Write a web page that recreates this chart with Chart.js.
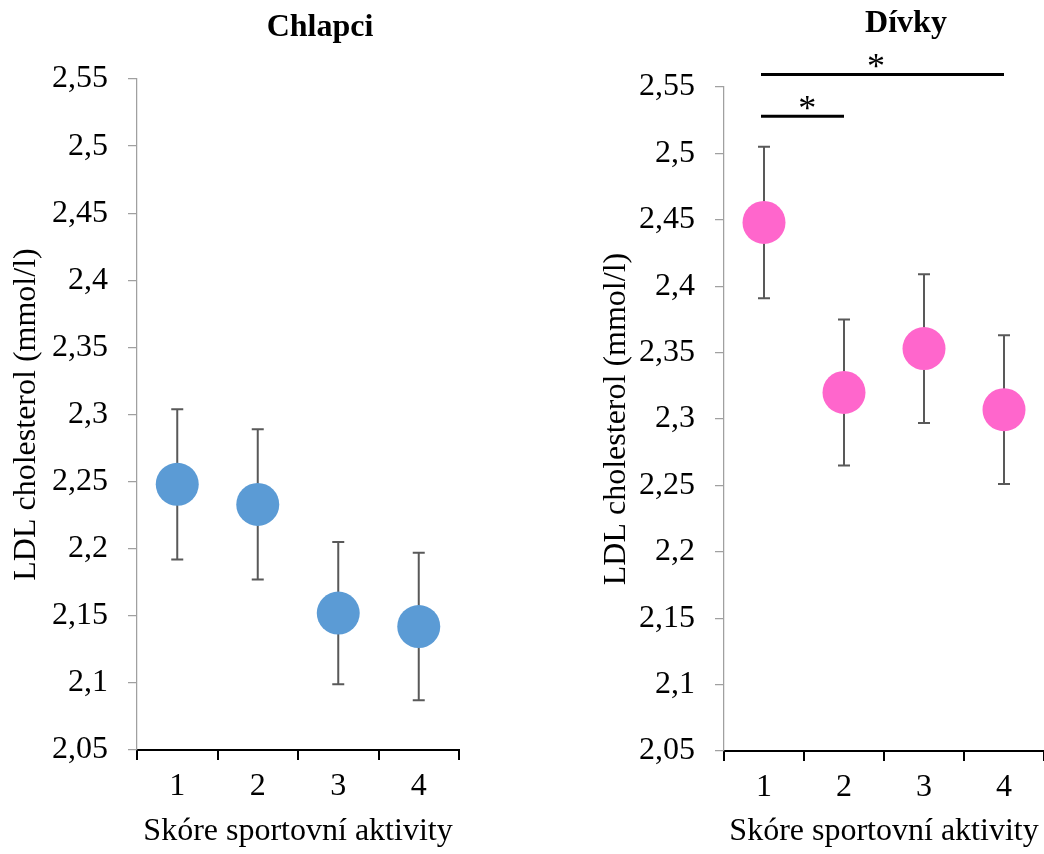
<!DOCTYPE html>
<html>
<head>
<meta charset="utf-8">
<script src="https://cdn.jsdelivr.net/npm/chart.js@4.4.0/dist/chart.umd.min.js"></script>
<style>
  body { margin: 0; background: #fff; }
  #wrap { position: relative; width: 1044px; height: 854px; overflow: hidden; }
  canvas { position: absolute; top: 0; }
  #boys { left: 0; }
  #girls { left: 590px; }
</style>
</head>
<body>
<div id="wrap">
  <canvas id="boys" width="470" height="854"></canvas>
  <canvas id="girls" width="454" height="854"></canvas>
</div>
<script>
const scores = ['1', '2', '3', '4'];
const yTicks = [2.05, 2.1, 2.15, 2.2, 2.25, 2.3, 2.35, 2.4, 2.45, 2.5, 2.55];

const boysMean = [2.248, 2.233, 2.152, 2.142];
const boysErr = [0.056, 0.056, 0.053, 0.055];

const girlsMean = [2.448, 2.320, 2.353, 2.307];
const girlsErr = [0.057, 0.055, 0.056, 0.056];

// significance brackets for girls: category indexes, star position, height
const girlsSig = [
  { from: 0, to: 1, star: 0.54, level: 2.528 },
  { from: 0, to: 3, star: 1.40, level: 2.5595 }
];

const serif = "'Liberation Serif', 'Times New Roman', serif";
Chart.defaults.font.family = serif;
Chart.defaults.color = '#000';

const errorBars = {
  id: 'errorBars',
  beforeDatasetsDraw(chart, args, opts) {
    const { ctx, scales: { x, y } } = chart;
    const mean = chart.data.datasets[0].data;
    ctx.save();
    ctx.strokeStyle = '#595959';
    ctx.lineWidth = 2;
    mean.forEach((m, i) => {
      const px = x.getPixelForValue(i);
      const top = y.getPixelForValue(m + opts.err[i]);
      const bot = y.getPixelForValue(m - opts.err[i]);
      ctx.beginPath();
      ctx.moveTo(px, top); ctx.lineTo(px, bot);
      ctx.moveTo(px - 6, top); ctx.lineTo(px + 6, top);
      ctx.moveTo(px - 6, bot); ctx.lineTo(px + 6, bot);
      ctx.stroke();
    });
    ctx.restore();
  }
};

const sigBars = {
  id: 'sigBars',
  afterDatasetsDraw(chart, args, opts) {
    if (!opts.bars) return;
    const { ctx, scales: { x, y } } = chart;
    ctx.save();
    ctx.strokeStyle = '#000';
    ctx.fillStyle = '#000';
    ctx.lineWidth = 3;
    ctx.font = '36px ' + serif;
    ctx.textAlign = 'center';
    ctx.textBaseline = 'alphabetic';
    opts.bars.forEach(b => {
      const py = y.getPixelForValue(b.level);
      ctx.beginPath();
      ctx.moveTo(x.getPixelForValue(b.from) - 3, py);
      ctx.lineTo(x.getPixelForValue(b.to), py);
      ctx.stroke();
      ctx.fillText('*', x.getPixelForValue(b.star), py + 4);
    });
    ctx.restore();
  }
};

const heading = {
  id: 'heading',
  afterDraw(chart, args, opts) {
    const { ctx, chartArea } = chart;
    ctx.save();
    ctx.font = 'bold 32px ' + serif;
    ctx.fillStyle = '#000';
    ctx.textAlign = 'center';
    ctx.textBaseline = 'alphabetic';
    ctx.fillText(opts.text, (chartArea.left + chartArea.right) / 2 + 22, opts.baseline);
    ctx.restore();
  }
};

function panel(id, cfg) {
  return new Chart(document.getElementById(id), {
    type: 'line',
    data: {
      labels: scores,
      datasets: [{
        data: cfg.mean,
        showLine: false,
        pointRadius: 21.5,
        pointHoverRadius: 21.5,
        pointBackgroundColor: cfg.color,
        pointBorderWidth: 0,
        clip: false
      }]
    },
    options: {
      responsive: false,
      animation: false,
      events: [],
      layout: {
        autoPadding: false,
        padding: { top: cfg.top, right: cfg.right, bottom: 0, left: 0 }
      },
      plugins: {
        legend: { display: false },
        tooltip: { enabled: false },
        errorBars: { err: cfg.err },
        sigBars: { bars: cfg.sig },
        heading: { text: cfg.title, baseline: cfg.titleBaseline }
      },
      scales: {
        x: {
          type: 'category',
          offset: true,
          afterFit: s => {
            s.height = 854 - cfg.bottom;
            s.paddingLeft = 0;
            s.paddingRight = 0;
          },
          border: { color: '#000', width: 2 },
          grid: { offset: true, drawOnChartArea: false, drawTicks: true, tickLength: 10, color: '#000', lineWidth: 2 },
          ticks: { font: { size: 32 }, padding: 7, color: '#000' },
          title: { display: true, text: 'Skóre sportovní aktivity', font: { size: 32 }, padding: { top: 0, bottom: 3 }, color: '#000' }
        },
        y: {
          min: 2.05,
          max: 2.55,
          afterBuildTicks: s => { s.ticks = yTicks.map(v => ({ value: v })); },
          afterFit: s => { s.width = cfg.left; },
          border: { color: '#A0A0A0', width: 1.25 },
          grid: { drawOnChartArea: false, drawTicks: true, tickLength: 9, color: '#A0A0A0', lineWidth: 1.25 },
          ticks: {
            font: { size: 32 },
            padding: 20,
            color: '#000',
            callback: v => String(v).replace('.', ',')
          },
          title: { display: true, text: 'LDL cholesterol (mmol/l)', font: { size: 32 }, padding: { top: 7, bottom: 0 }, color: '#000' }
        }
      }
    },
    plugins: [errorBars, sigBars, heading]
  });
}

panel('boys', {
  title: 'Chlapci', titleBaseline: 36,
  mean: boysMean, err: boysErr, color: '#5B9BD5',
  top: 79, bottom: 750, left: 137, right: 11, sig: null
});

panel('girls', {
  title: 'Dívky', titleBaseline: 32,
  mean: girlsMean, err: girlsErr, color: '#FF66CC',
  top: 87, bottom: 751, left: 134, right: 0, sig: girlsSig
});
</script>
</body>
</html>
